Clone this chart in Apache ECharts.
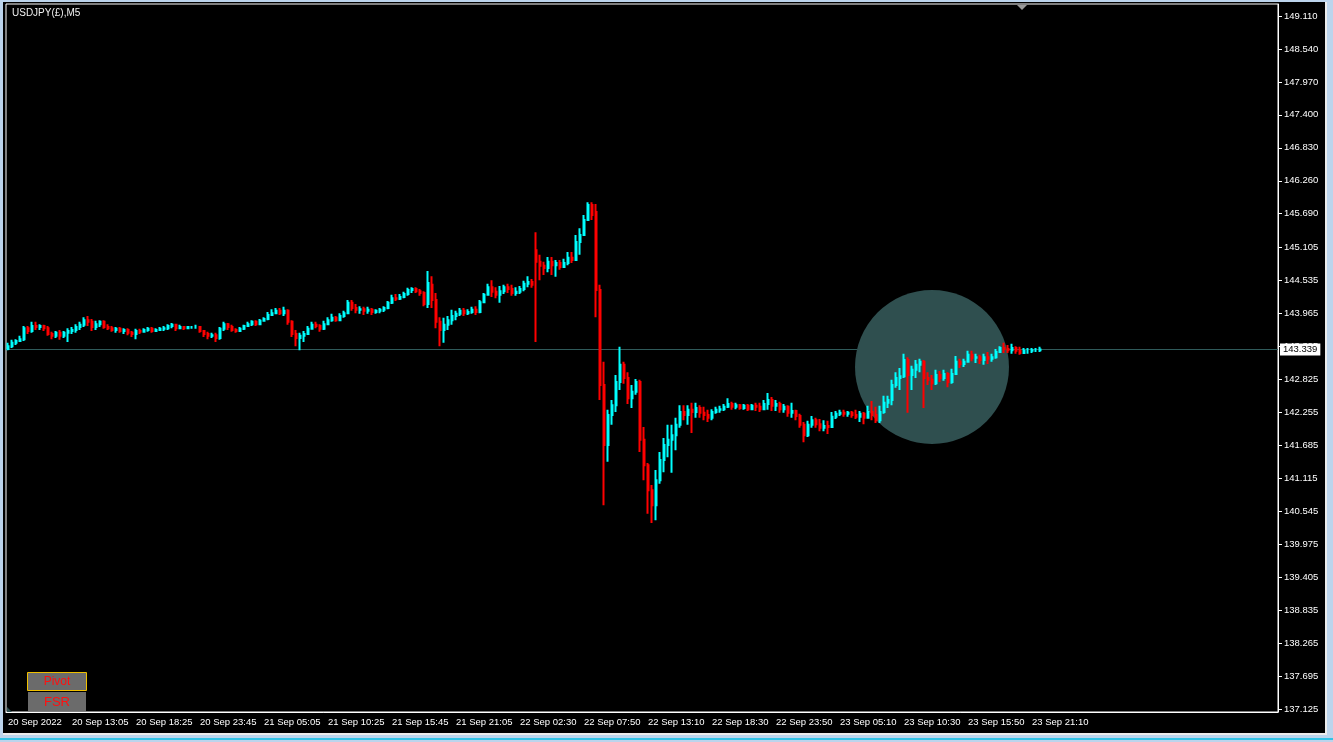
<!DOCTYPE html>
<html>
<head>
<meta charset="utf-8">
<title>USDJPY(£),M5</title>
<script src="https://cdn.jsdelivr.net/npm/echarts@6/dist/echarts.min.js"></script>
<style>
  html, body { margin: 0; padding: 0; background: #bcd4ec; overflow: hidden; }
  #edge { position: absolute; left: 0; top: 0; width: 1333px; height: 740px; border-bottom: 2px solid #33c3e6; box-sizing: border-box; }
  #frame { position: absolute; left: 3px; top: 2px; width: 1322px; height: 731px; background: #000;
           border-right: 2px solid #ececec; border-bottom: 2px solid #ececec; }
  #chart { position: absolute; left: 0; top: 0; width: 1333px; height: 742px; }
</style>
</head>
<body>
<div id="edge"></div>
<div id="frame"></div>
<div id="chart"></div>
<script>
// 20-minute candles (4 px per candle)
var opens = [
  143.35,143.40,143.46,143.49,143.52,143.71,143.66,143.75,143.73,143.75,
  143.71,143.61,143.58,143.63,143.58,143.63,143.66,143.68,143.73,143.77,
  143.85,143.82,143.73,143.78,143.82,143.73,143.71,143.68,143.70,143.66,
  143.68,143.63,143.61,143.66,143.65,143.68,143.70,143.66,143.68,143.70,
  143.71,143.75,143.77,143.71,143.73,143.71,143.73,143.73,143.73,143.66,
  143.61,143.58,143.59,143.54,143.70,143.78,143.73,143.68,143.66,143.70,
  143.75,143.78,143.82,143.78,143.84,143.87,143.94,143.97,144.01,143.97,
  144.01,143.82,143.61,143.54,143.58,143.61,143.70,143.77,143.75,143.70,
  143.78,143.85,143.89,143.85,143.92,143.97,144.15,144.06,144.03,144.04,
  144.01,144.03,143.99,144.01,144.03,144.06,144.15,144.23,144.22,144.25,
  144.30,144.37,144.39,144.35,144.32,144.13,144.46,144.20,143.82,143.68,
  143.77,143.85,143.92,143.96,144.01,143.97,143.99,144.03,143.99,144.16,
  144.29,144.42,144.34,144.29,144.35,144.42,144.39,144.32,144.34,144.39,
  144.48,144.51,145.06,144.86,144.79,144.75,144.86,144.80,144.84,144.77,
  144.84,144.93,144.89,145.20,145.32,145.58,145.84,145.72,144.37,142.73,
  141.69,142.21,142.38,142.78,143.08,142.85,142.50,142.61,142.78,141.78,
  141.34,140.91,140.65,141.08,141.43,141.69,141.78,141.86,142.04,142.26,
  142.21,142.30,142.26,142.33,142.25,142.21,142.16,142.26,142.30,142.31,
  142.35,142.40,142.35,142.38,142.33,142.37,142.31,142.37,142.35,142.31,
  142.40,142.47,142.37,142.40,142.31,142.35,142.25,142.28,142.19,142.04,
  141.86,142.04,142.12,142.05,141.99,142.02,142.00,142.18,142.23,142.25,
  142.23,142.25,142.21,142.18,142.23,142.16,142.26,142.21,142.12,142.26,
  142.42,142.47,142.73,142.85,142.88,143.16,142.90,142.99,143.08,143.13,
  142.85,142.82,142.76,142.90,142.85,142.92,142.78,142.92,143.13,143.09,
  143.13,143.25,143.20,143.21,143.16,143.21,143.18,143.21,143.30,143.37,
  143.35,143.33,143.37,143.32,143.28,143.32,143.32,143.33,143.33
];
var closes = [
  143.40,143.46,143.49,143.52,143.71,143.66,143.75,143.73,143.75,143.71,
  143.61,143.58,143.63,143.58,143.63,143.66,143.68,143.73,143.77,143.85,
  143.82,143.73,143.78,143.82,143.73,143.71,143.68,143.70,143.66,143.68,
  143.63,143.61,143.66,143.65,143.68,143.70,143.66,143.68,143.70,143.71,
  143.75,143.77,143.71,143.73,143.71,143.73,143.73,143.73,143.66,143.61,
  143.58,143.59,143.54,143.70,143.78,143.73,143.68,143.66,143.70,143.75,
  143.78,143.82,143.78,143.84,143.87,143.94,143.97,144.01,143.97,144.01,
  143.82,143.61,143.54,143.58,143.61,143.70,143.77,143.75,143.70,143.78,
  143.85,143.89,143.85,143.92,143.97,144.15,144.06,144.03,144.04,144.01,
  144.03,143.99,144.01,144.03,144.06,144.15,144.23,144.22,144.25,144.30,
  144.37,144.39,144.35,144.32,144.13,144.49,144.20,143.82,143.68,143.77,
  143.85,143.92,143.96,144.01,143.97,143.99,144.03,143.99,144.16,144.29,
  144.42,144.34,144.29,144.35,144.42,144.39,144.32,144.34,144.39,144.48,
  144.51,144.46,144.86,144.79,144.75,144.86,144.80,144.84,144.77,144.84,
  144.93,144.89,145.20,145.32,145.58,145.84,145.67,144.37,142.73,141.69,
  142.21,142.38,142.78,143.08,142.85,142.50,142.61,142.78,141.78,141.34,
  140.91,140.65,141.08,141.43,141.69,141.78,141.86,142.04,142.26,142.21,
  142.30,142.26,142.33,142.25,142.21,142.16,142.26,142.30,142.31,142.35,
  142.40,142.35,142.38,142.33,142.37,142.31,142.37,142.35,142.31,142.40,
  142.47,142.37,142.40,142.31,142.35,142.25,142.28,142.19,142.04,141.86,
  142.04,142.12,142.05,141.99,142.02,142.00,142.18,142.23,142.25,142.23,
  142.25,142.21,142.18,142.23,142.16,142.26,142.21,142.12,142.26,142.42,
  142.47,142.73,142.85,142.88,143.16,142.90,142.99,143.08,143.13,142.85,
  142.82,142.76,142.90,142.85,142.92,142.78,142.92,143.13,143.09,143.13,
  143.25,143.20,143.21,143.16,143.21,143.18,143.21,143.30,143.37,143.35,
  143.33,143.37,143.32,143.28,143.32,143.32,143.33,143.33,143.34
];
var lows = [
  143.33,143.37,143.42,143.47,143.49,143.61,143.63,143.68,143.68,143.66,
  143.58,143.52,143.54,143.51,143.54,143.47,143.61,143.63,143.68,143.73,
  143.75,143.66,143.68,143.73,143.70,143.68,143.65,143.63,143.63,143.61,
  143.59,143.56,143.52,143.61,143.63,143.65,143.63,143.65,143.66,143.66,
  143.68,143.71,143.66,143.70,143.68,143.70,143.70,143.70,143.63,143.56,
  143.52,143.54,143.47,143.51,143.66,143.68,143.65,143.63,143.65,143.68,
  143.73,143.75,143.75,143.77,143.82,143.85,143.92,143.96,143.94,143.92,
  143.77,143.56,143.40,143.33,143.47,143.63,143.71,143.71,143.65,143.68,
  143.77,143.82,143.82,143.84,143.89,143.96,144.01,143.97,143.96,143.94,
  143.96,143.94,143.96,143.97,143.99,144.04,144.13,144.18,144.20,144.23,
  144.27,144.32,144.32,144.27,144.09,144.06,144.06,143.71,143.40,143.46,
  143.68,143.77,143.85,143.92,143.92,143.94,143.96,143.94,143.97,144.15,
  144.27,144.25,144.23,144.15,144.30,144.32,144.27,144.27,144.30,144.35,
  144.42,144.41,143.47,144.54,144.63,144.68,144.63,144.60,144.72,144.75,
  144.80,144.84,144.96,144.98,145.31,145.62,145.58,143.90,142.47,140.65,
  141.40,142.04,142.26,142.64,142.75,142.40,142.33,142.56,141.57,141.08,
  140.50,140.34,140.39,141.02,141.22,141.48,141.21,141.60,141.99,142.12,
  142.04,141.90,142.16,142.16,142.12,142.09,142.12,142.23,142.25,142.28,
  142.33,142.30,142.31,142.30,142.30,142.28,142.30,142.28,142.26,142.30,
  142.30,142.28,142.28,142.25,142.25,142.18,142.16,142.12,141.99,141.74,
  141.83,141.99,141.99,141.93,141.93,141.88,141.99,142.14,142.19,142.18,
  142.18,142.16,142.14,142.09,142.05,142.19,142.12,142.07,142.07,142.23,
  142.33,142.38,142.68,142.64,142.85,142.25,142.64,142.85,142.95,142.33,
  142.73,142.64,142.73,142.78,142.80,142.69,142.75,142.95,143.02,143.04,
  143.13,143.14,143.11,143.09,143.08,143.09,143.13,143.18,143.28,143.28,
  143.28,143.27,143.27,143.25,143.27,143.27,143.28,143.30,143.30
];
var highs = [
  143.46,143.51,143.52,143.58,143.75,143.75,143.82,143.82,143.78,143.77,
  143.75,143.65,143.66,143.68,143.66,143.71,143.73,143.78,143.82,143.90,
  143.92,143.87,143.84,143.85,143.85,143.78,143.75,143.73,143.73,143.71,
  143.71,143.66,143.70,143.70,143.71,143.73,143.73,143.71,143.73,143.75,
  143.78,143.80,143.78,143.77,143.75,143.75,143.75,143.77,143.75,143.68,
  143.65,143.63,143.63,143.73,143.82,143.80,143.77,143.71,143.73,143.77,
  143.82,143.85,143.85,143.87,143.90,143.99,144.04,144.06,144.06,144.08,
  144.04,143.85,143.68,143.63,143.66,143.75,143.82,143.82,143.78,143.84,
  143.90,143.96,143.92,143.97,144.01,144.20,144.20,144.13,144.09,144.08,
  144.08,144.06,144.04,144.06,144.09,144.18,144.29,144.30,144.30,144.34,
  144.41,144.42,144.42,144.39,144.35,144.70,144.61,144.32,143.90,143.89,
  143.92,144.03,144.01,144.06,144.06,144.04,144.08,144.09,144.20,144.32,
  144.48,144.54,144.42,144.44,144.46,144.48,144.46,144.42,144.44,144.53,
  144.61,144.56,145.37,144.98,144.86,144.94,144.94,144.89,144.89,144.91,
  145.03,145.03,145.32,145.44,145.67,145.89,145.89,145.86,144.46,143.13,
  142.30,142.47,142.90,143.39,143.13,142.95,142.73,142.83,142.82,142.00,
  141.38,141.00,141.26,141.57,141.81,142.04,142.04,142.16,142.38,142.38,
  142.38,142.42,142.42,142.38,142.35,142.30,142.31,142.35,142.37,142.40,
  142.50,142.44,142.42,142.40,142.40,142.40,142.40,142.42,142.42,142.47,
  142.59,142.52,142.47,142.44,142.40,142.38,142.42,142.30,142.23,142.09,
  142.11,142.19,142.16,142.14,142.12,142.11,142.26,142.28,142.30,142.30,
  142.28,142.28,142.30,142.28,142.26,142.37,142.45,142.35,142.37,142.54,
  142.54,142.82,142.95,143.02,143.27,143.21,143.06,143.16,143.18,143.16,
  142.95,142.90,142.99,142.97,142.99,142.95,143.01,143.23,143.18,143.18,
  143.32,143.32,143.27,143.25,143.27,143.30,143.27,143.35,143.40,143.46,
  143.42,143.44,143.40,143.39,143.37,143.37,143.37,143.37,143.39
];

// time labels, one every 16 candles (64 five-minute bars)
var timeLabels = [
  '20 Sep 2022', '20 Sep 13:05', '20 Sep 18:25', '20 Sep 23:45', '21 Sep 05:05',
  '21 Sep 10:25', '21 Sep 15:45', '21 Sep 21:05', '22 Sep 02:30', '22 Sep 07:50',
  '22 Sep 13:10', '22 Sep 18:30', '22 Sep 23:50', '23 Sep 05:10', '23 Sep 10:30',
  '23 Sep 15:50', '23 Sep 21:10'
];
var priceTicks = [
  137.125, 137.695, 138.265, 138.835, 139.405, 139.975, 140.545, 141.115,
  141.685, 142.255, 142.825, 143.395, 143.965, 144.535, 145.105, 145.690,
  146.260, 146.830, 147.400, 147.970, 148.540, 149.110
];
var lastPrice = 143.339;
var highlightCenter = [231, 143.04]; // candle index, price

var slotCount = 318; // candles plus the empty shift area on the right
var categories = [];
for (var i = 0; i < slotCount; i++) categories.push(String(i));

var candles = opens.map(function (o, k) {
  return [o, closes[k], lows[k], highs[k]];
});

var font = '"Liberation Sans", Arial, sans-serif';
var showEvery = function (idx) { return idx % 16 === 0 && idx / 16 < timeLabels.length; };

var myChart = echarts.init(document.getElementById('chart'));

var options = {
  animation: false,
  title: {
    text: 'USDJPY(£),M5',
    left: 12, top: 8, padding: 0,
    textStyle: { color: '#f0f0f0', fontSize: 10, fontWeight: 'normal', fontFamily: font }
  },
  grid: {
    left: 6, right: 55, top: 4, bottom: 30,
    show: true, borderColor: '#fff', borderWidth: 1, backgroundColor: 'transparent'
  },
  xAxis: {
    type: 'category',
    data: categories,
    boundaryGap: true,
    axisLine: { lineStyle: { color: '#fff', width: 1 } },
    axisTick: { alignWithLabel: true, length: 3, interval: showEvery, lineStyle: { color: '#fff' } },
    axisLabel: {
      interval: showEvery, align: 'left', margin: 5,
      color: '#fff', fontSize: 9.5, fontFamily: font,
      formatter: function (v, idx) { return timeLabels[idx / 16] || ''; }
    },
    splitLine: { show: false }
  },
  yAxis: {
    type: 'value',
    position: 'right',
    min: 137.073, max: 149.317,
    axisLine: { show: true, lineStyle: { color: '#fff', width: 1 } },
    axisTick: { show: true, length: 4, customValues: priceTicks, lineStyle: { color: '#fff' } },
    axisLabel: {
      customValues: priceTicks, margin: 6,
      color: '#fff', fontSize: 9.5, fontFamily: font,
      formatter: function (v) { return v.toFixed(3); }
    },
    splitLine: { show: false }
  },
  series: [
    {
      type: 'scatter',
      z: 2,
      silent: true,
      data: [highlightCenter],
      symbol: 'circle',
      symbolSize: 154,
      itemStyle: { color: '#2f4f4f', opacity: 1 },
      markLine: {
        z: 1,
        silent: true,
        symbol: 'none',
        lineStyle: { color: '#2f5a5a', width: 1, type: 'solid' },
        label: {
          show: true, position: 'end', distance: 2,
          formatter: lastPrice.toFixed(3),
          color: '#000', backgroundColor: '#fff', padding: [1, 3, 1, 3],
          fontSize: 9.5, fontFamily: font
        },
        emphasis: { disabled: true },
        data: [{ yAxis: lastPrice }]
      }
    },
    {
      type: 'candlestick',
      z: 3,
      silent: true,
      data: candles,
      barWidth: 2,
      itemStyle: {
        color: '#00ffff', color0: '#ff0000',
        borderColor: '#00ffff', borderColor0: '#ff0000', borderWidth: 2
      }
    }
  ],
  graphic: [
    { type: 'polygon', shape: { points: [[1017, 5], [1027, 5], [1022, 10]] }, style: { fill: '#9a9a9a' } },
    { type: 'polygon', shape: { points: [[7, 707], [7, 712], [12, 712]] }, style: { fill: '#2f4f4f' } },
    { type: 'rect', shape: { x: 27.5, y: 672.5, width: 59, height: 18 }, style: { fill: '#6b6b6b', stroke: '#f0c000', lineWidth: 1 } },
    { type: 'text', x: 57, y: 682, style: { text: 'Pivot', fill: '#ff1010', font: '12px ' + font, align: 'center', verticalAlign: 'middle' } },
    { type: 'rect', shape: { x: 28, y: 692, width: 58, height: 19 }, style: { fill: '#6b6b6b' } },
    { type: 'text', x: 57, y: 702, style: { text: 'FSR', fill: '#ff1010', font: '13px ' + font, align: 'center', verticalAlign: 'middle' } }
  ]
};

myChart.setOption(options, true);
</script>
</body>
</html>
